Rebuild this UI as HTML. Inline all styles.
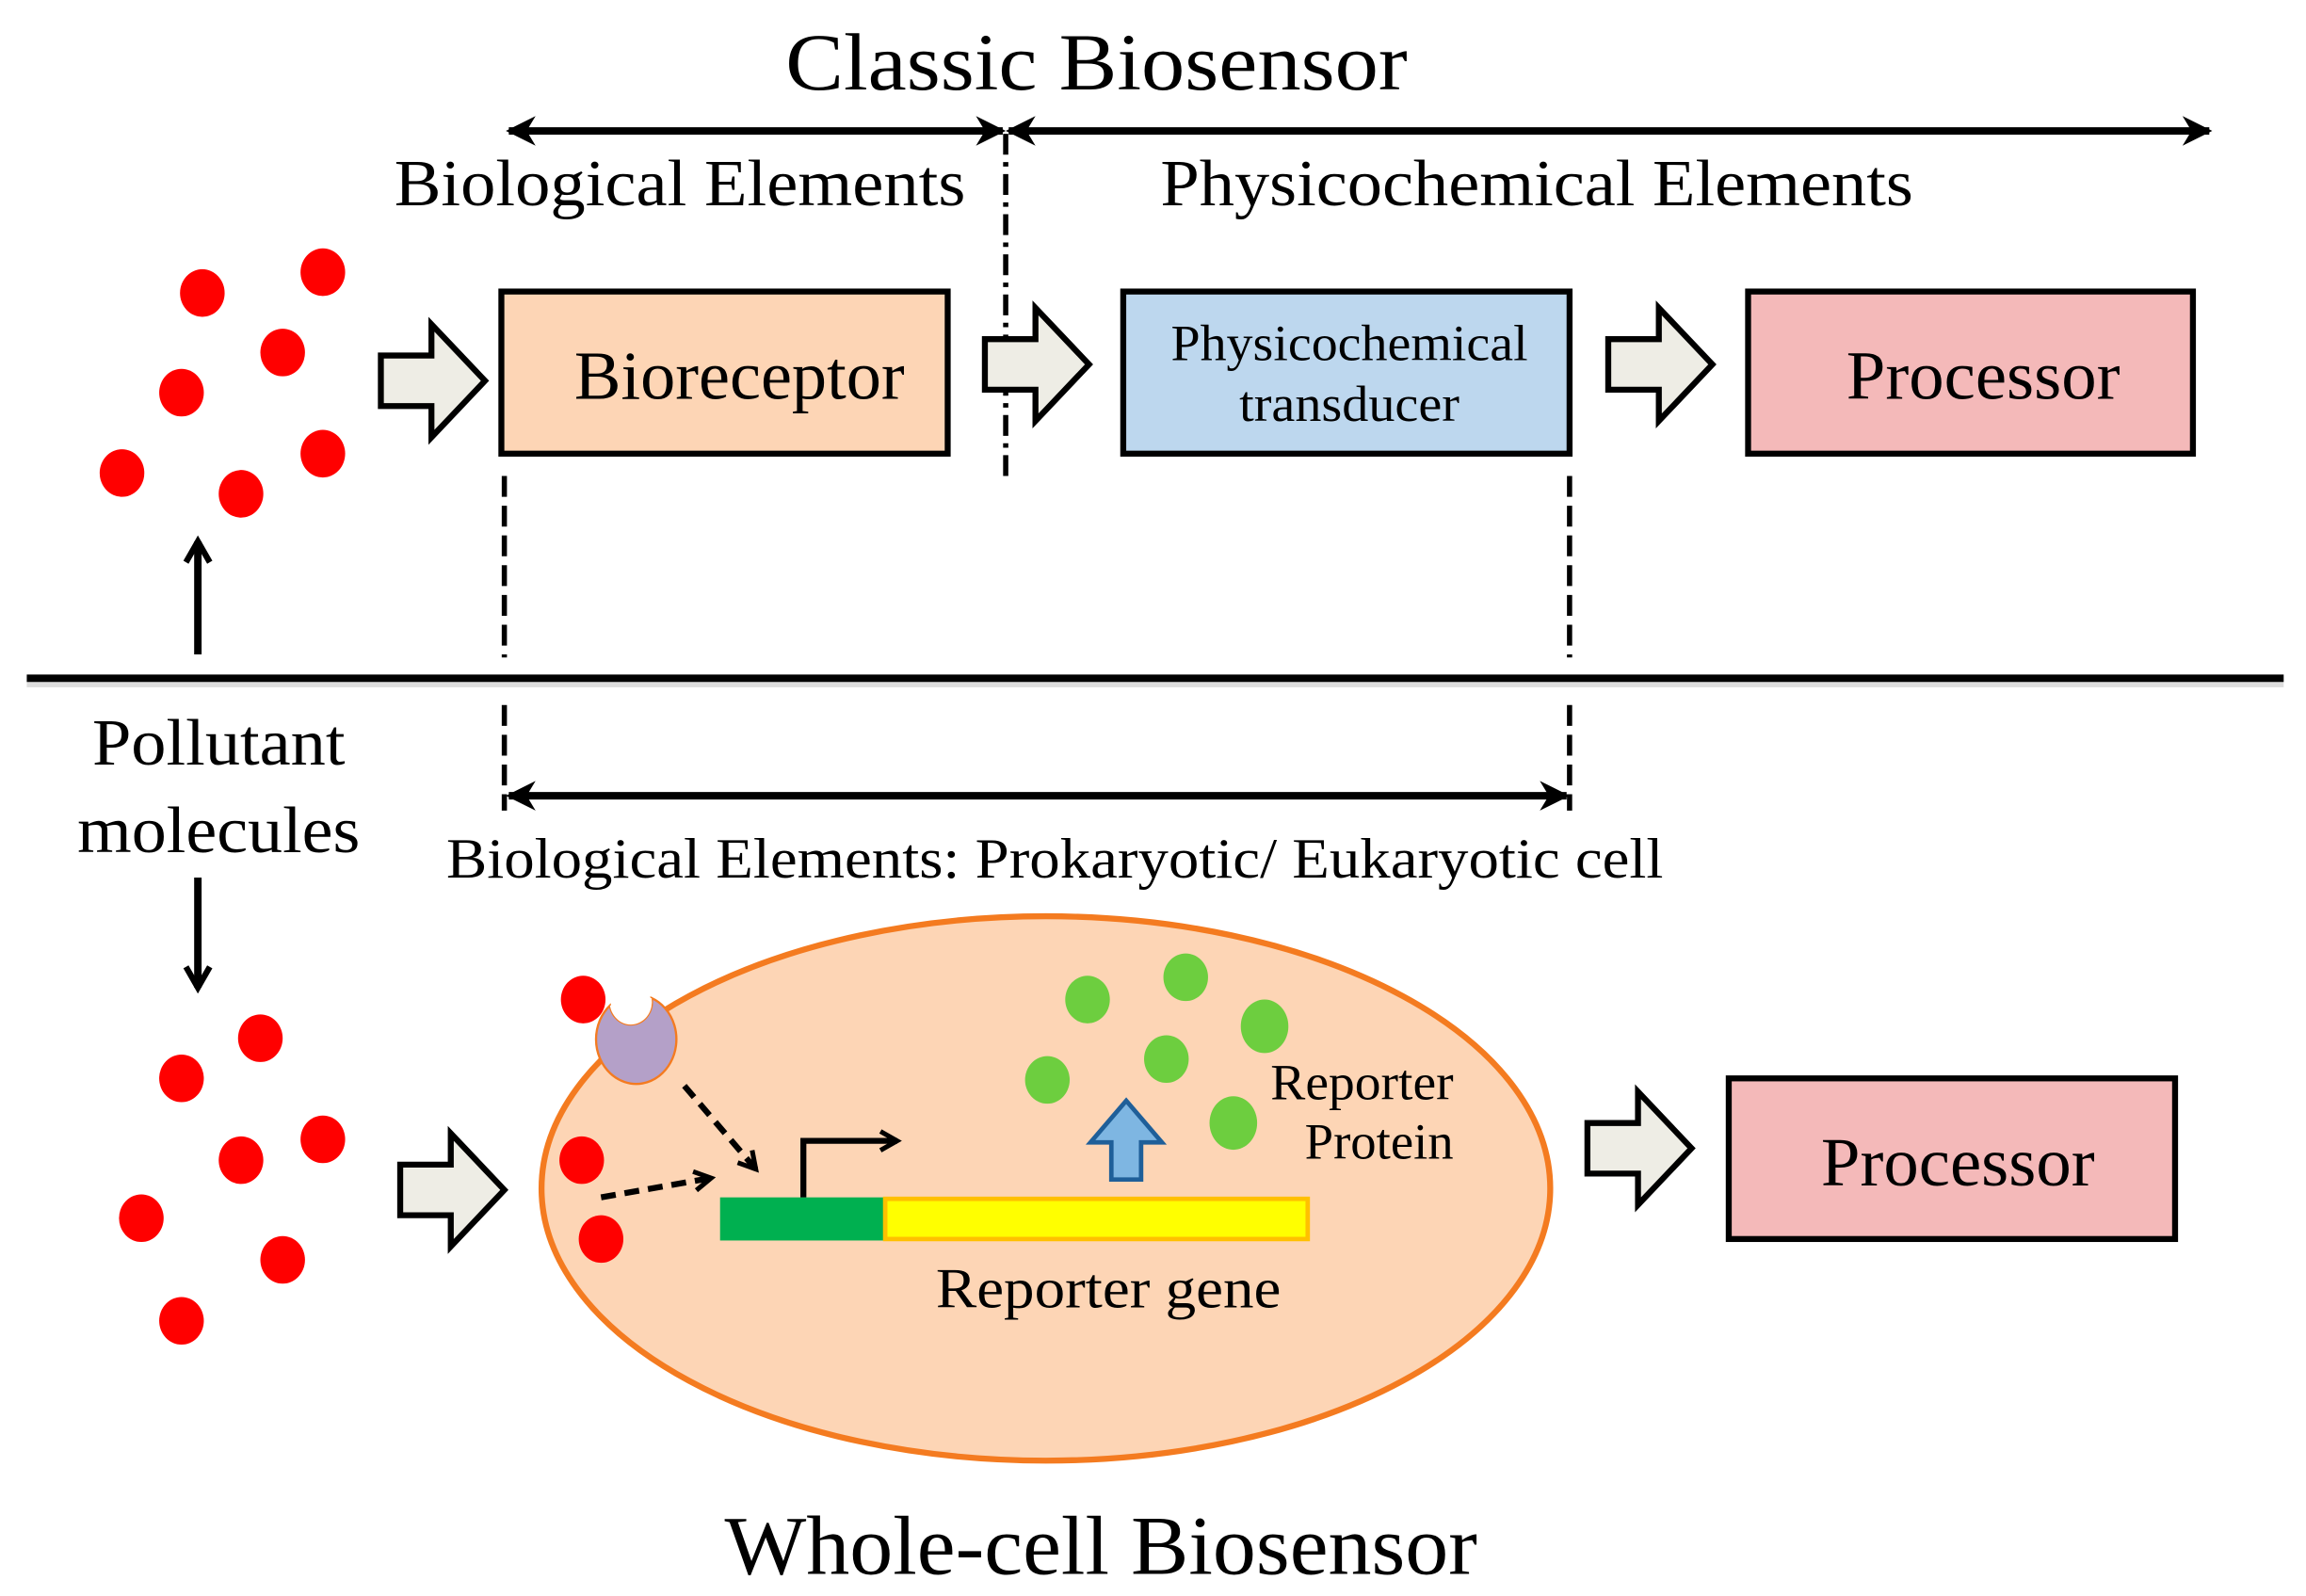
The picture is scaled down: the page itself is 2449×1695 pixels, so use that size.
<!DOCTYPE html>
<html><head><meta charset="utf-8"><style>html,body{margin:0;padding:0;background:#fff}svg{display:block}text{font-family:"Liberation Serif","Times New Roman",Times,"Nimbus Roman","FreeSerif",serif;fill:#000}</style></head>
<body>
<svg width="2449" height="1695" viewBox="0 0 1550 1073" preserveAspectRatio="none" xmlns="http://www.w3.org/2000/svg" font-family="Liberation Serif, Times New Roman, serif">
<defs>
<marker id="ah" viewBox="0 0 10 10" refX="9" refY="5" markerWidth="4.5" markerHeight="4" orient="auto-start-reverse"><path d="M0,0 L10,5 L0,10 L3,5 Z" fill="#000"/></marker>
<marker id="oh" viewBox="0 0 10 10" refX="8" refY="5" markerWidth="4" markerHeight="4" orient="auto"><path d="M1,1 L8,5 L1,9" fill="none" stroke="#000" stroke-width="2"/></marker>
<path id="barr" d="M0,-17 H34 V-38 L70,0 L34,38 V17 H0 Z" fill="#eeede5" stroke="#000" stroke-width="4" stroke-linejoin="miter"/>
</defs>
<text x="737" y="60" font-size="54" text-anchor="middle" textLength="418" lengthAdjust="spacingAndGlyphs">Classic Biosensor</text>
<line x1="342" y1="88" x2="674" y2="88" stroke="#000" stroke-width="5" marker-start="url(#ah)" marker-end="url(#ah)"/>
<line x1="678" y1="88" x2="1485" y2="88" stroke="#000" stroke-width="5" marker-start="url(#ah)" marker-end="url(#ah)"/>
<text x="265" y="138" font-size="44" textLength="384" lengthAdjust="spacingAndGlyphs">Biological Elements</text>
<text x="780" y="138" font-size="44" textLength="506" lengthAdjust="spacingAndGlyphs">Physicochemical Elements</text>
<line x1="676" y1="90" x2="676" y2="320" stroke="#000" stroke-width="3.5" stroke-dasharray="14,5,3,5"/>
<g fill="#f00">
<ellipse cx="136" cy="197" rx="15" ry="16"/><ellipse cx="217" cy="183" rx="15" ry="16"/><ellipse cx="190" cy="237" rx="15" ry="16"/><ellipse cx="122" cy="264" rx="15" ry="16"/><ellipse cx="217" cy="305" rx="15" ry="16"/><ellipse cx="82" cy="318" rx="15" ry="16"/><ellipse cx="162" cy="332" rx="15" ry="16"/>
<ellipse cx="175" cy="698" rx="15" ry="16"/><ellipse cx="122" cy="725" rx="15" ry="16"/><ellipse cx="217" cy="766" rx="15" ry="16"/><ellipse cx="162" cy="780" rx="15" ry="16"/><ellipse cx="95" cy="819" rx="15" ry="16"/><ellipse cx="190" cy="847" rx="15" ry="16"/><ellipse cx="122" cy="888" rx="15" ry="16"/>
</g>
<use href="#barr" x="256" y="256"/>
<use href="#barr" x="662" y="245"/>
<use href="#barr" x="1081" y="245"/>
<rect x="337" y="196" width="300" height="109" fill="#fdd5b5" stroke="#000" stroke-width="4"/>
<text x="497" y="268" font-size="46" text-anchor="middle" textLength="222" lengthAdjust="spacingAndGlyphs">Bioreceptor</text>
<rect x="755" y="196" width="300" height="109" fill="#bdd7ee" stroke="#000" stroke-width="4"/>
<text x="907" y="242" font-size="34" text-anchor="middle" textLength="240" lengthAdjust="spacingAndGlyphs">Physicochemical</text>
<text x="907" y="283" font-size="34" text-anchor="middle" textLength="148" lengthAdjust="spacingAndGlyphs">transducer</text>
<rect x="1175" y="196" width="299" height="109" fill="#f4b9b9" stroke="#000" stroke-width="4"/>
<text x="1333" y="268" font-size="46" text-anchor="middle" textLength="184" lengthAdjust="spacingAndGlyphs">Processor</text>
<line x1="339" y1="320" x2="339" y2="442" stroke="#000" stroke-width="3.5" stroke-dasharray="14,6"/>
<line x1="1055" y1="320" x2="1055" y2="442" stroke="#000" stroke-width="3.5" stroke-dasharray="14,6"/>
<line x1="339" y1="474" x2="339" y2="545" stroke="#000" stroke-width="3.5" stroke-dasharray="14,6"/>
<line x1="1055" y1="474" x2="1055" y2="545" stroke="#000" stroke-width="3.5" stroke-dasharray="14,6"/>
<line x1="133" y1="440" x2="133" y2="364" stroke="#000" stroke-width="5" marker-end="url(#oh)"/>
<line x1="18" y1="460" x2="1535" y2="460" stroke="#ddd" stroke-width="4"/>
<line x1="18" y1="456" x2="1535" y2="456" stroke="#000" stroke-width="5"/>
<text x="147" y="514" font-size="44" text-anchor="middle" textLength="170" lengthAdjust="spacingAndGlyphs">Pollutant</text>
<text x="147" y="573" font-size="44" text-anchor="middle" textLength="190" lengthAdjust="spacingAndGlyphs">molecules</text>
<line x1="133" y1="590" x2="133" y2="664" stroke="#000" stroke-width="5" marker-end="url(#oh)"/>
<line x1="342" y1="535" x2="1053" y2="535" stroke="#000" stroke-width="5" marker-start="url(#ah)" marker-end="url(#ah)"/>
<text x="300" y="590" font-size="38" textLength="818" lengthAdjust="spacingAndGlyphs">Biological Elements: Prokaryotic/ Eukaryotic cell</text>
<ellipse cx="703" cy="799" rx="339" ry="183" fill="#fdd5b5" stroke="#f47b20" stroke-width="4"/>
<use href="#barr" x="269" y="800"/>
<use href="#barr" x="1067" y="772"/>
<rect x="1162" y="725" width="300" height="108" fill="#f4b9b9" stroke="#000" stroke-width="4"/>
<text x="1316" y="797" font-size="46" text-anchor="middle" textLength="184" lengthAdjust="spacingAndGlyphs">Processor</text>
<g fill="#f00"><ellipse cx="392" cy="672" rx="15" ry="16"/><ellipse cx="391" cy="780" rx="15" ry="16"/><ellipse cx="404" cy="833" rx="15" ry="16"/></g>
<path d="M410,676 A27,30 0 1 0 438,671 A13,14 0 1 1 410,676 Z" fill="#b4a0c8" stroke="#f47b20" stroke-width="1.5"/>
<path d="M410,676 A13,14 0 1 0 438,671" fill="#fff"/>
<line x1="460" y1="730" x2="508" y2="786" stroke="#000" stroke-width="4" stroke-dasharray="10,6" marker-end="url(#oh)"/>
<line x1="404" y1="805" x2="478" y2="792" stroke="#000" stroke-width="4" stroke-dasharray="10,6" marker-end="url(#oh)"/>
<rect x="484" y="805" width="111" height="29" fill="#00b050"/>
<rect x="595" y="806" width="284" height="27" fill="#ffff00" stroke="#ffc000" stroke-width="3"/>
<path d="M540,805 V767 H603" fill="none" stroke="#000" stroke-width="4" marker-end="url(#oh)"/>
<path d="M747,793 V768 H733 L757,740 L781,768 H767 V793 Z" fill="#7eb6e2" stroke="#1f5f99" stroke-width="3"/>
<g fill="#6dce3f">
<ellipse cx="731" cy="672" rx="15" ry="16"/><ellipse cx="797" cy="657" rx="15" ry="16"/><ellipse cx="784" cy="712" rx="15" ry="16"/><ellipse cx="704" cy="726" rx="15" ry="16"/><ellipse cx="829" cy="755" rx="16" ry="18"/><ellipse cx="850" cy="690" rx="16" ry="18"/>
</g>
<text x="977" y="739" font-size="34" text-anchor="end" textLength="123" lengthAdjust="spacingAndGlyphs">Reporter</text>
<text x="977" y="779" font-size="34" text-anchor="end" textLength="100" lengthAdjust="spacingAndGlyphs">Protein</text>
<text x="745" y="879" font-size="38" text-anchor="middle" textLength="232" lengthAdjust="spacingAndGlyphs">Reporter gene</text>
<text x="740" y="1058" font-size="56" text-anchor="middle" textLength="506" lengthAdjust="spacingAndGlyphs">Whole-cell Biosensor</text>
</svg>
</body></html>
